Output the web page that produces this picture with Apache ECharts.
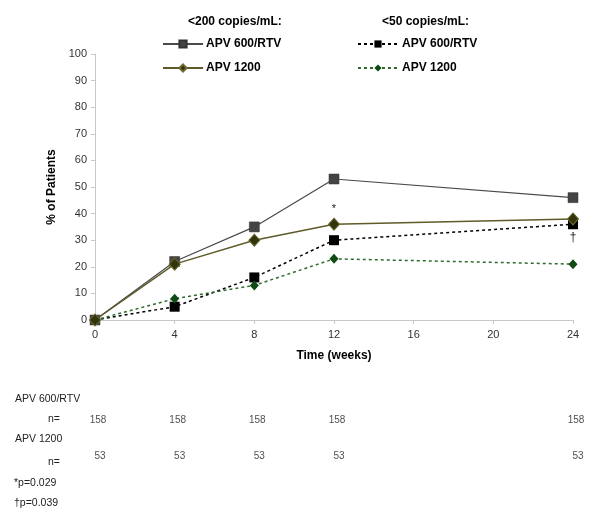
<!DOCTYPE html>
<html><head><meta charset="utf-8">
<script src="https://cdn.jsdelivr.net/npm/echarts@6/dist/echarts.min.js"></script>
<style>html,body{margin:0;padding:0;background:#fff}#c{width:600px;height:528px}</style>
</head><body><div id="c"></div>
<script>
const weeks = [0, 4, 8, 12, 24];
const apv600_lt200 = [0, 22, 35, 53, 46];
const apv1200_lt200 = [0, 21, 30, 36, 38];
const apv600_lt50 = [0, 5, 16, 30, 36];
const apv1200_lt50 = [0, 8, 13, 23, 21];
const n600 = [158, 158, 158, 158, 158];
const n1200 = [53, 53, 53, 53, 53];
const xTicks = [0, 4, 8, 12, 16, 20, 24];

const FONT = '"Liberation Sans", Arial, Helvetica, sans-serif';
const chart = echarts.init(document.getElementById('c'));

function pairs(vals) { return weeks.map((w, i) => [w, vals[i]]); }

const d1200 = pairs(apv1200_lt200).map(p => ({ value: p }));
d1200[3] = { value: d1200[3].value, label: { show: true, formatter: '*', position: 'top', distance: 3, fontSize: 11, color: '#222', fontFamily: FONT } };
const d600_50 = pairs(apv600_lt50).map(p => ({ value: p }));
d600_50[4] = { value: d600_50[4].value, label: { show: true, formatter: '\u2020', position: 'bottom', distance: 2, fontSize: 12, color: '#222', fontFamily: FONT } };

const axisCommon = {
  axisLine: { lineStyle: { color: '#c8c8c8', width: 1 } },
  axisTick: { lineStyle: { color: '#c8c8c8' }, length: 4 },
  axisLabel: { color: '#333', fontSize: 11, fontFamily: FONT },
  splitLine: { show: false }
};

const nameFmt = n => n.split(' (')[0];
const small = '10.5px ' + FONT;
function txt(x, y, s) { return { type: 'text', x: x, y: y, style: { text: s, font: small, fill: '#222', verticalAlign: 'middle' } }; }

chart.setOption({
  animation: false,
  backgroundColor: '#fff',
  textStyle: { fontFamily: FONT },
  grid: [
    { left: 95, right: 27, top: 54, bottom: 208, containLabel: false },
    { left: 95, right: 27, top: 420, height: 56 }
  ],
  xAxis: [
    Object.assign({}, axisCommon, {
      type: 'value', gridIndex: 0, min: 0, max: 24, interval: 4,
      name: 'Time (weeks)', nameLocation: 'middle', nameGap: 30,
      nameTextStyle: { fontWeight: 'bold', fontSize: 12, color: '#000', fontFamily: FONT },
      axisLabel: { color: '#333', fontSize: 11, fontFamily: FONT, margin: 9 }
    }),
    { type: 'value', gridIndex: 1, min: 0, max: 24, show: false }
  ],
  yAxis: [
    Object.assign({}, axisCommon, {
      type: 'value', gridIndex: 0, min: 0, max: 100, interval: 10,
      name: '% of Patients', nameLocation: 'middle', nameGap: 33, nameRotate: 90,
      nameTextStyle: { fontWeight: 'bold', fontSize: 12, color: '#000', fontFamily: FONT },
      axisLabel: { color: '#333', fontSize: 11, fontFamily: FONT, margin: 8 }
    }),
    { type: 'value', gridIndex: 1, min: 0, max: 1, show: false }
  ],
  legend: [
    {
      left: 157, top: 33, orient: 'vertical', itemWidth: 40, itemHeight: 9, itemGap: 12,
      data: ['APV 600/RTV (<200)', 'APV 1200 (<200)'], formatter: nameFmt,
      textStyle: { fontWeight: 'bold', fontSize: 12, color: '#000', fontFamily: FONT, padding: [0, 0, 0, -2] },
      selectedMode: false
    },
    {
      left: 352, top: 33, orient: 'vertical', itemWidth: 40, itemHeight: 9, itemGap: 12,
      data: ['APV 600/RTV (<50)', 'APV 1200 (<50)'], formatter: nameFmt,
      textStyle: { fontWeight: 'bold', fontSize: 12, color: '#000', fontFamily: FONT, padding: [0, 0, 0, -1] },
      selectedMode: false
    }
  ],
  graphic: [
    { type: 'text', x: 188, y: 22, style: { text: '<200 copies/mL:', font: 'bold 12px ' + FONT, fill: '#000', verticalAlign: 'middle' } },
    { type: 'text', x: 382, y: 22, style: { text: '<50 copies/mL:', font: 'bold 12px ' + FONT, fill: '#000', verticalAlign: 'middle' } },
    txt(15, 399, 'APV 600/RTV'),
    txt(48, 419, 'n='),
    txt(15, 439, 'APV 1200'),
    txt(48, 462, 'n='),
    txt(14, 483, '*p=0.029'),
    txt(14, 503, '\u2020p=0.039')
  ],
  series: [
    {
      name: 'APV 600/RTV (<50)', type: 'line', xAxisIndex: 0, yAxisIndex: 0,
      data: d600_50, symbol: 'rect', symbolSize: 10,
      lineStyle: { color: '#000', width: 1.5, type: [3, 3] },
      itemStyle: { color: '#000' }, z: 3
    },
    {
      name: 'APV 1200 (<50)', type: 'line', xAxisIndex: 0, yAxisIndex: 0,
      data: pairs(apv1200_lt50), symbol: 'diamond', symbolSize: [9, 10],
      lineStyle: { color: '#2f6b2f', width: 1.5, type: [3, 3] },
      itemStyle: { color: '#0f4a14' }, z: 3
    },
    {
      name: 'APV 600/RTV (<200)', type: 'line', xAxisIndex: 0, yAxisIndex: 0,
      data: pairs(apv600_lt200), symbol: 'rect', symbolSize: 10,
      lineStyle: { color: '#4a4a4a', width: 1.2 },
      itemStyle: { color: '#444', borderColor: '#333', borderWidth: 0.5 }, z: 4
    },
    {
      name: 'APV 1200 (<200)', type: 'line', xAxisIndex: 0, yAxisIndex: 0,
      data: d1200, symbol: 'diamond', symbolSize: [11, 12],
      lineStyle: { color: '#5e5a2a', width: 1.5 },
      itemStyle: { color: '#33330c', borderColor: '#6b6a30', borderWidth: 1 }, z: 5
    },
    {
      name: 'n600', type: 'scatter', xAxisIndex: 1, yAxisIndex: 1,
      data: weeks.map(w => [w, 1]),
      symbol: 'circle', symbolSize: 1, itemStyle: { color: 'rgba(0,0,0,0)' },
      label: { show: true, position: 'inside', offset: [3, 0], formatter: p => String(n600[p.dataIndex]), fontSize: 10, color: '#222', fontFamily: FONT },
      silent: true
    },
    {
      name: 'n1200', type: 'scatter', xAxisIndex: 1, yAxisIndex: 1,
      data: weeks.map(w => [w, 0.35]),
      symbol: 'circle', symbolSize: 1, itemStyle: { color: 'rgba(0,0,0,0)' },
      label: { show: true, position: 'inside', offset: [5, 0], formatter: p => String(n1200[p.dataIndex]), fontSize: 10, color: '#222', fontFamily: FONT },
      silent: true
    }
  ]
});
</script>
</body></html>
